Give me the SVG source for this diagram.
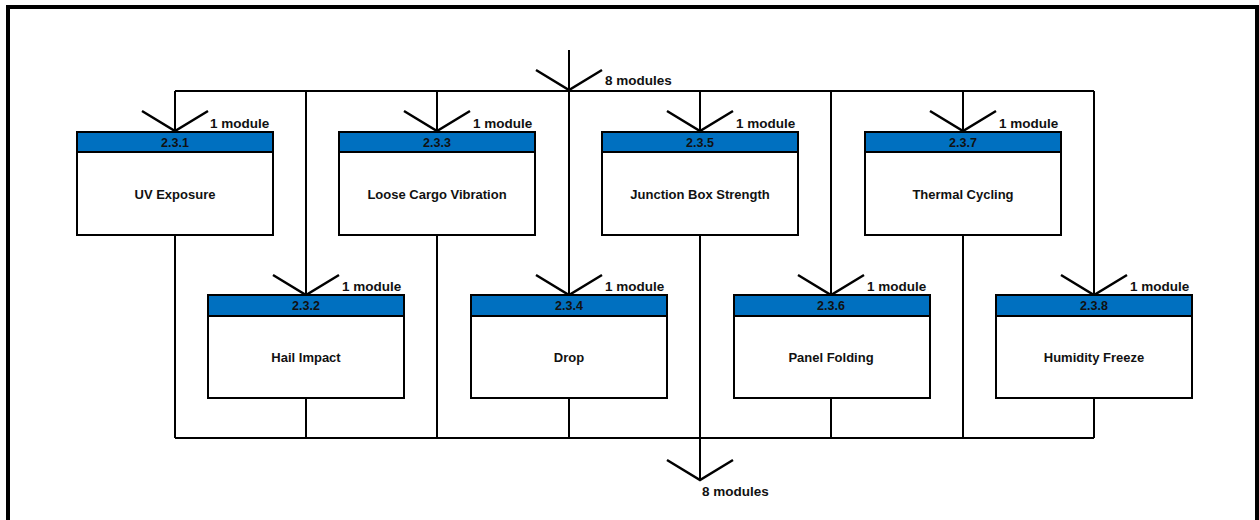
<svg xmlns="http://www.w3.org/2000/svg" width="1259" height="520" viewBox="0 0 1259 520">
  <style>
    .frame { fill: none; stroke: #000; }
    .wire { fill: none; stroke: #000; stroke-width: 2; }
    .box { fill: #fff; stroke: #000; stroke-width: 2; }
    .head { fill: #0070c0; stroke: #000; stroke-width: 2; }
    .num { font-family: "Liberation Sans", Arial, sans-serif; font-weight: bold; font-size: 12.5px; fill: #111; text-anchor: middle; }
    .title { font-family: "Liberation Sans", Arial, sans-serif; font-weight: bold; font-size: 13px; fill: #111; text-anchor: middle; }
    .qty { font-family: "Liberation Sans", Arial, sans-serif; font-weight: bold; font-size: 13.5px; fill: #111; }
  </style>
  <defs>
    <!-- open chevron that marks a flow entering at its tip -->
    <path id="chev" d="M-33,-20 L0,0 L33,-20" fill="none" stroke="#000" stroke-width="2.5"/>
  </defs>

  <rect width="1259" height="520" fill="#fff"/>
  <!-- outer frame (open at the bottom) -->
  <path class="frame" d="M8,520 V7 H1257 V520" stroke-width="4"/>
  <line x1="1257" y1="7" x2="1257" y2="520" stroke="#000" stroke-width="2"/>

  <g id="connectors">
    <!-- input stem and top bus -->
    <line class="wire" x1="569" y1="50" x2="569" y2="91"/>
    <line class="wire" x1="175" y1="91" x2="1094" y2="91"/>
    <!-- drops into the upper row -->
    <line class="wire" x1="175" y1="91" x2="175" y2="131"/>
    <line class="wire" x1="437" y1="91" x2="437" y2="131"/>
    <line class="wire" x1="700" y1="91" x2="700" y2="131"/>
    <line class="wire" x1="963" y1="91" x2="963" y2="131"/>
    <!-- drops into the lower row -->
    <line class="wire" x1="306" y1="91" x2="306" y2="295"/>
    <line class="wire" x1="569" y1="91" x2="569" y2="295"/>
    <line class="wire" x1="831" y1="91" x2="831" y2="295"/>
    <line class="wire" x1="1094" y1="91" x2="1094" y2="295"/>
    <!-- returns to the bottom bus -->
    <line class="wire" x1="175" y1="235" x2="175" y2="438"/>
    <line class="wire" x1="437" y1="235" x2="437" y2="438"/>
    <line class="wire" x1="700" y1="235" x2="700" y2="480"/>
    <line class="wire" x1="963" y1="235" x2="963" y2="438"/>
    <line class="wire" x1="306" y1="398" x2="306" y2="438"/>
    <line class="wire" x1="569" y1="398" x2="569" y2="438"/>
    <line class="wire" x1="831" y1="398" x2="831" y2="438"/>
    <line class="wire" x1="1094" y1="398" x2="1094" y2="438"/>
    <line class="wire" x1="175" y1="438" x2="1094" y2="438"/>

    <!-- chevrons and quantities -->
    <use href="#chev" x="569" y="90"/>
    <text class="qty" x="605" y="85">8 modules</text>
    <use href="#chev" x="700" y="480"/>
    <text class="qty" x="702" y="496">8 modules</text>

    <use href="#chev" x="175" y="131"/>
    <text class="qty" x="210" y="128">1 module</text>
    <use href="#chev" x="437" y="131"/>
    <text class="qty" x="473" y="128">1 module</text>
    <use href="#chev" x="700" y="131"/>
    <text class="qty" x="736" y="128">1 module</text>
    <use href="#chev" x="963" y="131"/>
    <text class="qty" x="999" y="128">1 module</text>

    <use href="#chev" x="306" y="295"/>
    <text class="qty" x="342" y="291">1 module</text>
    <use href="#chev" x="569" y="295"/>
    <text class="qty" x="605" y="291">1 module</text>
    <use href="#chev" x="831" y="295"/>
    <text class="qty" x="867" y="291">1 module</text>
    <use href="#chev" x="1094" y="295"/>
    <text class="qty" x="1130" y="291">1 module</text>
  </g>

  <!-- upper row -->
  <g id="n231">
    <rect class="box" x="77" y="132" width="196" height="103"/>
    <rect class="head" x="77" y="132" width="196" height="20"/>
    <text class="num" x="175" y="146.5">2.3.1</text>
    <text class="title" x="175" y="199">UV Exposure</text>
  </g>
  <g id="n233">
    <rect class="box" x="339" y="132" width="196" height="103"/>
    <rect class="head" x="339" y="132" width="196" height="20"/>
    <text class="num" x="437" y="146.5">2.3.3</text>
    <text class="title" x="437" y="199">Loose Cargo Vibration</text>
  </g>
  <g id="n235">
    <rect class="box" x="602" y="132" width="196" height="103"/>
    <rect class="head" x="602" y="132" width="196" height="20"/>
    <text class="num" x="700" y="146.5">2.3.5</text>
    <text class="title" x="700" y="199">Junction Box Strength</text>
  </g>
  <g id="n237">
    <rect class="box" x="865" y="132" width="196" height="103"/>
    <rect class="head" x="865" y="132" width="196" height="20"/>
    <text class="num" x="963" y="146.5">2.3.7</text>
    <text class="title" x="963" y="199">Thermal Cycling</text>
  </g>

  <!-- lower row -->
  <g id="n232">
    <rect class="box" x="208" y="295" width="196" height="103"/>
    <rect class="head" x="208" y="295" width="196" height="21"/>
    <text class="num" x="306" y="310">2.3.2</text>
    <text class="title" x="306" y="362">Hail Impact</text>
  </g>
  <g id="n234">
    <rect class="box" x="471" y="295" width="196" height="103"/>
    <rect class="head" x="471" y="295" width="196" height="21"/>
    <text class="num" x="569" y="310">2.3.4</text>
    <text class="title" x="569" y="362">Drop</text>
  </g>
  <g id="n236">
    <rect class="box" x="734" y="295" width="196" height="103"/>
    <rect class="head" x="734" y="295" width="196" height="21"/>
    <text class="num" x="831" y="310">2.3.6</text>
    <text class="title" x="831" y="362">Panel Folding</text>
  </g>
  <g id="n238">
    <rect class="box" x="996" y="295" width="196" height="103"/>
    <rect class="head" x="996" y="295" width="196" height="21"/>
    <text class="num" x="1094" y="310">2.3.8</text>
    <text class="title" x="1094" y="362">Humidity Freeze</text>
  </g>
</svg>
